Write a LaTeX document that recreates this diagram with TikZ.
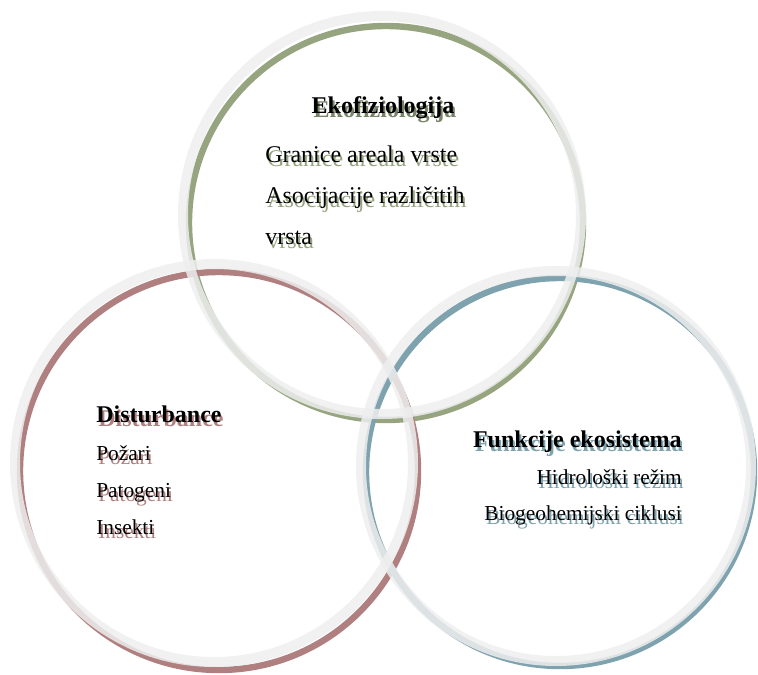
\documentclass[tikz,border=0pt]{standalone}
\usepackage{fontspec}
\setmainfont{Liberation Serif}
\usepackage{tikz}
\definecolor{ekogreen}{RGB}{150,165,128}
\definecolor{disred}{RGB}{176,128,128}
\definecolor{funblue}{RGB}{126,162,174}
\definecolor{ringgray}{RGB}{238,238,238}
\tikzstyle{ring} = [draw=ringgray, line width=7.5pt, draw opacity=0.85]
\tikzstyle{edge} = [line width=4.8pt]
\tikzstyle{head} = [font=\fontsize{18}{20}\selectfont\bfseries, inner sep=0pt]
\tikzstyle{itembig} = [font=\fontsize{18}{20}\selectfont, inner sep=0pt]
\tikzstyle{item} = [font=\fontsize{16}{18}\selectfont, inner sep=0pt]
% style, name, anchor, position, shadow colour, text
\newcommand{\shlabel}[6]{%
  \node[#1, anchor=#3, text=#5, xshift=1.5pt, yshift=-3pt] at (#4) {#6};
  \node[#1, anchor=#3] (#2) at (#4) {#6};}

\begin{document}
\begin{tikzpicture}[x=0.75pt, y=-0.75pt]
\useasboundingbox (0,0) rectangle (758,675);

\draw [edge, draw=ekogreen] (386,223) circle (197);
\draw [edge, draw=disred] (219,471) circle (199);
\draw [edge, draw=funblue] (560,472) circle (194);

\draw [ring] (382,215) circle (199);
\draw [ring] (214,463) circle (199);
\draw [ring] (556,466) circle (195);

\shlabel{head}{eko}{base}{383,113}{ekogreen!80!black}{Ekofiziologija}
\shlabel{itembig}{eko1}{base west}{265,162}{ekogreen}{Granice areala vrste}
\shlabel{itembig}{eko2}{base west}{265,203}{ekogreen}{Asocijacije različitih}
\shlabel{itembig}{eko3}{base west}{265,244}{ekogreen}{vrsta}

\shlabel{head}{dist}{base west}{96,422}{disred}{Disturbance}
\shlabel{item}{dist1}{base west}{96,460}{disred}{Požari}
\shlabel{item}{dist2}{base west}{96,497}{disred}{Patogeni}
\shlabel{item}{dist3}{base west}{96,534}{disred}{Insekti}

\shlabel{head}{funk}{base east}{682,447}{funblue}{Funkcije ekosistema}
\shlabel{item}{funk1}{base east}{682,484}{funblue}{Hidrološki režim}
\shlabel{item}{funk2}{base east}{682,520}{funblue}{Biogeohemijski ciklusi}
\end{tikzpicture}
\end{document}
